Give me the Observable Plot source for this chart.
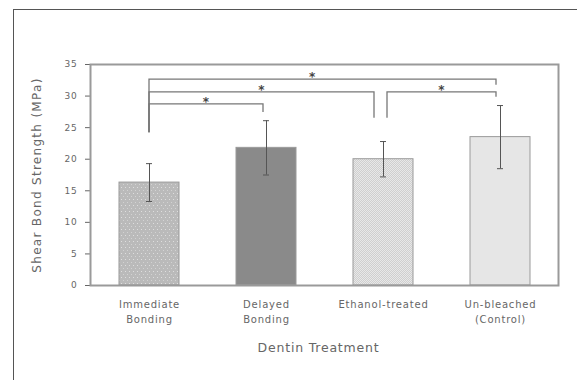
<!DOCTYPE html>
<html><head><meta charset="utf-8">
<script src="https://cdn.jsdelivr.net/npm/d3@7"></script>
<script src="https://cdn.jsdelivr.net/npm/@observablehq/plot@0.6"></script>
<style>
html,body{margin:0;padding:0;background:#fff;}
#wrap{position:relative;width:577px;height:380px;overflow:hidden;}
#border{position:absolute;left:13px;top:9px;right:-5px;bottom:-5px;border-left:1.5px solid #555;border-top:1.5px solid #555;pointer-events:none;}
svg text{letter-spacing:0.8px;}
</style></head><body><div id="wrap"><div id="border"></div></div>
<script>
// ---- data ----
const categories = ["Immediate\nBonding", "Delayed\nBonding", "Ethanol-treated", "Un-bleached\n(Control)"];
const means = [16.3, 21.8, 20.0, 23.5];
const sds = [3.0, 4.3, 2.8, 5.0];
const yTicks = [0, 5, 10, 15, 20, 25, 30, 35];
const yLabel = "Shear Bond Strength (MPa)";
const xLabel = "Dentin Treatment";
// significance brackets
const bracketFrom = [0, 0, 0, 2];
const bracketTo = [1, 2, 3, 3];
const bracketTop = [28.7, 30.6, 32.6, 30.6];
const bracketLegFrom = [24.2, 24.2, 24.2, 26.5];
const bracketLegTo = [27.4, 26.5, 31.7, 29.8];
const bracketText = ["*", "*", "*", "*"];

// ---- style ----
const fills = ["url(#pImm)", "url(#pDel)", "url(#pEth)", "url(#pUnb)"];
const bracketOffFrom = [0, 0, 0, 4];
const bracketOffTo = [-3, -9, -4, -4];
const starFrac = [0.5, 0.5, 0.47, 0.5];

const data = categories.map((c, i) => ({cat: c, mean: means[i], sd: sds[i]}));

const chart = Plot.plot({
  width: 577, height: 380,
  marginLeft: 90, marginRight: 19, marginTop: 64, marginBottom: 95,
  style: {fontFamily: "'DejaVu Sans', sans-serif", fontSize: "9px", color: "#666", background: "transparent"},
  x: {domain: categories, paddingInner: 0.49, paddingOuter: 0.245, axis: null},
  y: {domain: [0, 35], ticks: yTicks, tickSize: 5, tickPadding: 8, label: null},
  color: {domain: categories, range: fills},
  marks: [
    Plot.barY(data, {x: "cat", y: "mean", fill: "cat", stroke: "#9a9a9a", strokeWidth: 1}),
    Plot.ruleX(data, {x: "cat", y1: d => d.mean - d.sd, y2: d => d.mean + d.sd, stroke: "#555", strokeWidth: 1}),
    Plot.tickY(data, {x: "cat", y: d => d.mean + d.sd, stroke: "#555", insetLeft: 27, insetRight: 27}),
    Plot.tickY(data, {x: "cat", y: d => d.mean - d.sd, stroke: "#555", insetLeft: 27, insetRight: 27}),
    Plot.text(categories, {x: d => d, frameAnchor: "bottom", dy: 12, lineAnchor: "top", lineHeight: 1.5, fontSize: 10, fill: "#666"}),
    Plot.text([yLabel], {frameAnchor: "left", textAnchor: "middle", dx: -53, rotate: -90, fontSize: 12, fill: "#666"}),
    Plot.text([xLabel], {frameAnchor: "bottom", dx: -6, dy: 66, fontSize: 12.5, fill: "#666"}),
    Plot.frame({stroke: "#9a9a9a", strokeWidth: 2})
  ]
});

const svg = d3.select(chart);
const defs = svg.insert("defs", ":first-child");
// Immediate: dotted medium gray
const p0 = defs.append("pattern").attr("id", "pImm").attr("patternUnits", "userSpaceOnUse").attr("width", 4).attr("height", 6);
p0.append("rect").attr("width", 4).attr("height", 6).attr("fill", "#bababa");
p0.append("rect").attr("x", 1).attr("y", 1).attr("width", 1).attr("height", 1).attr("fill", "#dedede");
p0.append("rect").attr("x", 3).attr("y", 4).attr("width", 1).attr("height", 1).attr("fill", "#d2d2d2");
// Delayed: dark solid gray
const p1 = defs.append("pattern").attr("id", "pDel").attr("patternUnits", "userSpaceOnUse").attr("width", 4).attr("height", 4);
p1.append("rect").attr("width", 4).attr("height", 4).attr("fill", "#8a8a8a");
// Ethanol: fine checker light gray
const p2 = defs.append("pattern").attr("id", "pEth").attr("patternUnits", "userSpaceOnUse").attr("width", 2).attr("height", 2);
p2.append("rect").attr("width", 2).attr("height", 2).attr("fill", "#cfcfcf");
p2.append("rect").attr("width", 1).attr("height", 1).attr("fill", "#e8e8e8");
p2.append("rect").attr("x", 1).attr("y", 1).attr("width", 1).attr("height", 1).attr("fill", "#e8e8e8");
// Un-bleached: light solid gray
const p3 = defs.append("pattern").attr("id", "pUnb").attr("patternUnits", "userSpaceOnUse").attr("width", 4).attr("height", 4);
p3.append("rect").attr("width", 4).attr("height", 4).attr("fill", "#e6e6e6");

// y label letter spacing
svg.selectAll("text").filter(function() { return this.textContent === yLabel; }).style("letter-spacing", "1.3px");

// significance brackets using Plot's scales
const xs = chart.scale("x"), ys = chart.scale("y");
const cx = i => xs.apply(categories[i]) + xs.bandwidth / 2;
const g = svg.append("g").attr("fill", "none").attr("stroke", "#777").attr("stroke-width", 1.3);
bracketFrom.forEach((f, k) => {
  const x1 = cx(f) + bracketOffFrom[k], x2 = cx(bracketTo[k]) + bracketOffTo[k];
  const yt = ys.apply(bracketTop[k]);
  g.append("path").attr("d", `M${x1},${ys.apply(bracketLegFrom[k])}V${yt}H${x2}V${ys.apply(bracketLegTo[k])}`);
  svg.append("text").attr("x", x1 + starFrac[k] * (x2 - x1)).attr("y", yt + 2)
    .attr("text-anchor", "middle").attr("font-size", 12).attr("font-weight", "bold").attr("fill", "#444")
    .style("letter-spacing", "0px").text(bracketText[k]);
});

document.getElementById("wrap").appendChild(chart);
</script>
</body></html>
